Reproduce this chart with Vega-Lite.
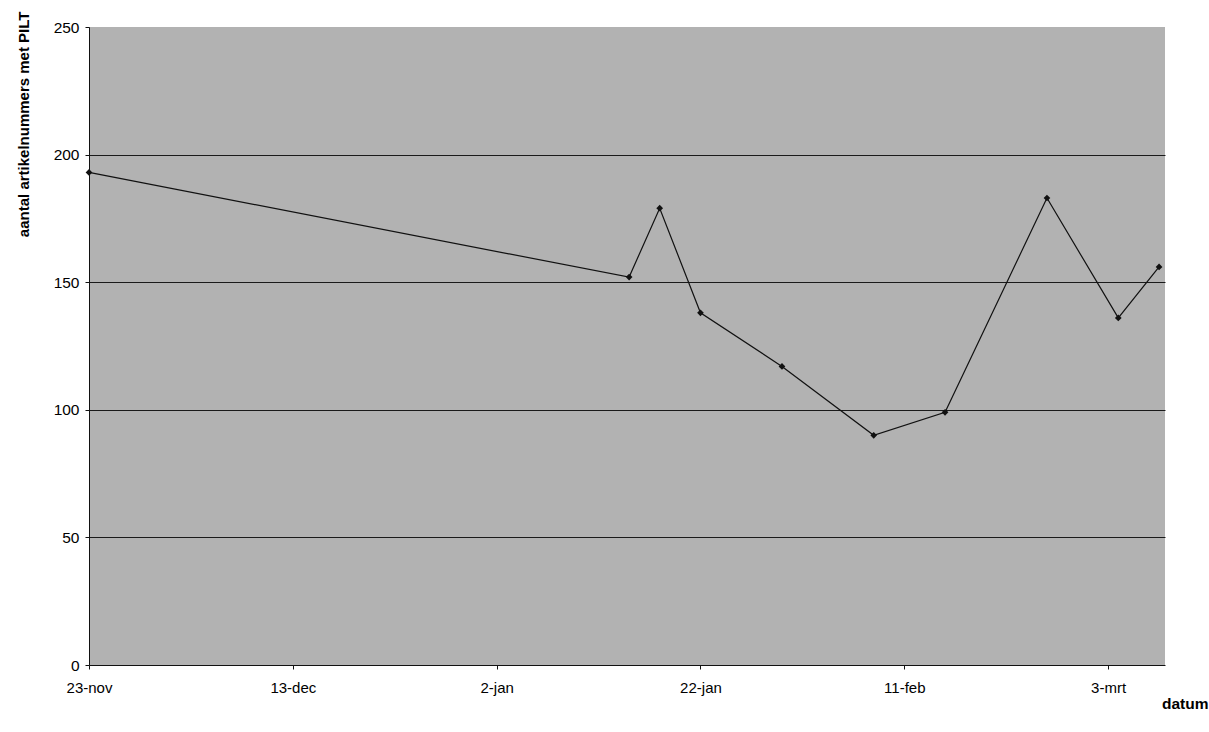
{
  "$schema": "https://vega.github.io/schema/vega-lite/v6.json",
  "autosize": "none",
  "width": 1076,
  "height": 638,
  "padding": {"left": 89, "top": 27, "right": 44, "bottom": 67},
  "background": "white",
  "config": {
    "view": {"fill": "#b2b2b2", "stroke": null},
    "font": "Liberation Sans"
  },
  "data": {
    "values": [
      {"datum": "1998-11-23", "aantal": 193},
      {"datum": "1999-01-15", "aantal": 152},
      {"datum": "1999-01-18", "aantal": 179},
      {"datum": "1999-01-22", "aantal": 138},
      {"datum": "1999-01-30", "aantal": 117},
      {"datum": "1999-02-08", "aantal": 90},
      {"datum": "1999-02-15", "aantal": 99},
      {"datum": "1999-02-25", "aantal": 183},
      {"datum": "1999-03-04", "aantal": 136},
      {"datum": "1999-03-08", "aantal": 156}
    ]
  },
  "encoding": {
    "x": {
      "field": "datum",
      "type": "temporal",
      "scale": {
        "type": "utc",
        "domain": [
          {"year": 1998, "month": 11, "date": 23, "utc": true},
          {"year": 1999, "month": 3, "date": 8, "hours": 14, "utc": true}
        ]
      },
      "axis": {
        "values": [
          {"year": 1998, "month": 11, "date": 23, "utc": true},
          {"year": 1998, "month": 12, "date": 13, "utc": true},
          {"year": 1999, "month": 1, "date": 2, "utc": true},
          {"year": 1999, "month": 1, "date": 22, "utc": true},
          {"year": 1999, "month": 2, "date": 11, "utc": true},
          {"year": 1999, "month": 3, "date": 3, "utc": true}
        ],
        "labelExpr": "utcdate(datum.value) + '-' + ['jan','feb','mrt','apr','mei','jun','jul','aug','sep','okt','nov','dec'][utcmonth(datum.value)]",
        "grid": false,
        "domainColor": "#111",
        "tickColor": "#111",
        "tickSize": 4,
        "labelPadding": 11,
        "labelFontSize": 15,
        "labelColor": "#000",
        "labelFlush": false,
        "title": "datum",
        "titleFontSize": 15.5,
        "titleFontWeight": "bold",
        "titleColor": "#000",
        "titleAnchor": null,
        "titleX": 1119,
        "titleY": 43,
        "titleAlign": "right",
        "titleBaseline": "alphabetic"
      }
    },
    "y": {
      "field": "aantal",
      "type": "quantitative",
      "scale": {"domain": [0, 250], "nice": false, "zero": true},
      "axis": {
        "values": [0, 50, 100, 150, 200, 250],
        "grid": true,
        "gridColor": "#1a1a1a",
        "gridWidth": 1,
        "gridOpacity": {"condition": {"test": "datum.value === 250 || datum.value === 0", "value": 0}, "value": 1},
        "domainColor": "#111",
        "tickColor": "#111",
        "tickSize": 4,
        "labelPadding": 6,
        "labelFontSize": 15.5,
        "labelColor": "#000",
        "labelFlush": false,
        "title": "aantal artikelnummers met PILT",
        "titleFontSize": 15,
        "titleFontWeight": "bold",
        "titleColor": "#000",
        "titleAngle": -90,
        "titleAnchor": null,
        "titleX": -66,
        "titleY": -16,
        "titleAlign": "right",
        "titleBaseline": "middle"
      }
    }
  },
  "layer": [
    {"mark": {"type": "line", "color": "#111", "strokeWidth": 1.2}},
    {"mark": {"type": "point", "shape": "diamond", "filled": true, "color": "#111", "size": 45, "opacity": 1}}
  ]
}
